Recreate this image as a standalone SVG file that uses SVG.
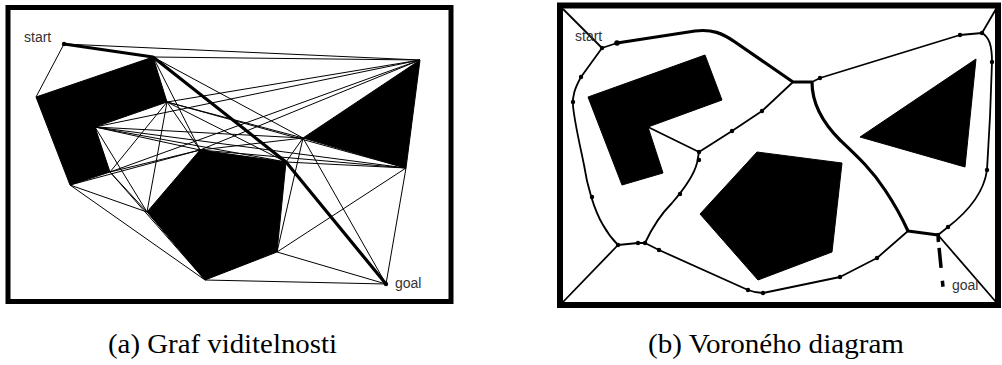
<svg xmlns="http://www.w3.org/2000/svg" width="1002" height="365" viewBox="0 0 1002 365">
<style>
.frame{fill:none;stroke:#000}
.obs{fill:#000;stroke:#000;stroke-width:1}
.thin{stroke:#000;stroke-width:1;fill:none}
.thick{stroke:#000;stroke-width:3.2;fill:none;stroke-linejoin:round}
.vor{stroke:#000;stroke-width:1.8;fill:none;stroke-linejoin:round}
.dot{fill:#000}
.lbl{font-family:"Liberation Sans",Arial,sans-serif;font-size:14px;fill:#333}
.cap{font-family:"Liberation Serif","Times New Roman",serif;font-size:27px;fill:#000}
</style>
<rect width="1002" height="365" fill="#fff"/>

<!-- Panel (a): visibility graph -->
<g id="panel-a">
  <rect class="frame" x="8" y="7.5" width="443" height="294" stroke-width="5"/>
  <g id="a-obstacles">
    <polygon id="a-obstacle-L" class="obs" points="36,97 153,57 167,102 95,127 110,172 70,185"/>
    <polygon id="a-obstacle-triangle" class="obs" points="420,60 303,138 406,168"/>
    <polygon id="a-obstacle-pentagon" class="obs" points="200,150 286,162 277,252 205,280 147,212"/>
  </g>
  <g id="a-edges" class="thin">
    <line x1="64" y1="44" x2="36" y2="97"/>
    <line x1="64" y1="44" x2="420" y2="60"/>
    <line x1="153" y1="57" x2="420" y2="60"/>
    <line x1="153" y1="57" x2="303" y2="138"/>
    <line x1="153" y1="57" x2="200" y2="150"/>
    <line x1="167" y1="102" x2="420" y2="60"/>
    <line x1="167" y1="102" x2="303" y2="138"/>
    <line x1="167" y1="102" x2="406" y2="168"/>
    <line x1="167" y1="102" x2="200" y2="150"/>
    <line x1="167" y1="102" x2="286" y2="162"/>
    <line x1="167" y1="102" x2="147" y2="212"/>
    <line x1="167" y1="102" x2="110" y2="172"/>
    <line x1="95" y1="127" x2="420" y2="60"/>
    <line x1="95" y1="127" x2="303" y2="138"/>
    <line x1="95" y1="127" x2="406" y2="168"/>
    <line x1="95" y1="127" x2="200" y2="150"/>
    <line x1="95" y1="127" x2="286" y2="162"/>
    <line x1="95" y1="127" x2="147" y2="212"/>
    <line x1="110" y1="172" x2="420" y2="60"/>
    <line x1="110" y1="172" x2="200" y2="150"/>
    <line x1="110" y1="172" x2="147" y2="212"/>
    <line x1="110" y1="172" x2="205" y2="280"/>
    <line x1="70" y1="185" x2="147" y2="212"/>
    <line x1="70" y1="185" x2="205" y2="280"/>
    <line x1="70" y1="185" x2="200" y2="150"/>
    <line x1="200" y1="150" x2="420" y2="60"/>
    <line x1="200" y1="150" x2="303" y2="138"/>
    <line x1="200" y1="150" x2="406" y2="168"/>
    <line x1="286" y1="162" x2="303" y2="138"/>
    <line x1="286" y1="162" x2="406" y2="168"/>
    <line x1="277" y1="252" x2="303" y2="138"/>
    <line x1="277" y1="252" x2="406" y2="168"/>
    <line x1="277" y1="252" x2="386" y2="284"/>
    <line x1="205" y1="280" x2="386" y2="284"/>
    <line x1="303" y1="138" x2="386" y2="284"/>
    <line x1="406" y1="168" x2="386" y2="284"/>
  </g>
  <g id="a-path">
    <polyline class="thick" points="64,44 153,57 286,162 386,284"/>
  </g>
  <g id="a-start"><circle class="dot" cx="64" cy="44" r="2.2"/><text class="lbl" x="24" y="42">start</text></g>
  <g id="a-goal"><circle class="dot" cx="386" cy="284" r="2.2"/><text class="lbl" x="395" y="288">goal</text></g>
</g>

<!-- Panel (b): Voronoi diagram -->
<g id="panel-b">
  <rect class="frame" x="560" y="5.5" width="438" height="299.5" stroke-width="6"/>
  <g id="b-obstacles">
    <polygon id="b-obstacle-L" class="obs" points="588,97 705,55 722,100 648,127 663,173 622,185"/>
    <polygon id="b-obstacle-pentagon" class="obs" points="757,152 842,163 832,252 758,280 700,214"/>
    <polygon id="b-obstacle-triangle" class="obs" points="976,59 860,137 965,167"/>
  </g>
  <g id="b-edges">
    <line class="vor" x1="563" y1="9" x2="602" y2="48"/>
    <line class="vor" x1="602" y1="48" x2="617" y2="43"/>
    <path class="vor" d="M602,48 L581,77 C575,88 572,96 573,106 C575,125 580,145 584,165 C587,185 594,210 603,225 C608,234 613,240 618,245"/>
    <line class="vor" x1="618" y1="245" x2="563" y2="302"/>
    <polyline class="vor" points="618,245 638,243 645,243"/>
    <path class="vor" d="M645,243 C652,228 660,215 672,203 C685,188 694,175 697,163 L699,152"/>
    <line class="vor" x1="699" y1="152" x2="648" y2="127"/>
    <polyline class="vor" points="699,152 732,131 762,111 793,82"/>
    <polyline class="vor" points="812,82 820,78 960,35 982,33"/>
    <line class="vor" x1="982" y1="33" x2="996" y2="9"/>
    <path class="vor" d="M982,33 C989,37 992,45 992,62 C991,100 989,140 987,170 C984,192 970,210 948,227 L938,235"/>
    <line class="vor" x1="938" y1="235" x2="996" y2="302"/>
    <path class="vor" d="M645,243 L659,250 L748,290 C753,292 758,293 763,293 L840,277 L877,258 L908,231"/>
  </g>
  <g id="b-path">
    <path class="thick" d="M617,43 L695,31 C712,29 722,33 735,42 L793,82 L812,82 C812,100 820,120 840,140 C858,157 872,170 885,190 C895,205 903,220 908,231 L938,235"/>
    <line x1="938" y1="237" x2="943" y2="287" stroke="#000" stroke-width="3.5" stroke-dasharray="5 6 20 13 6"/>
  </g>
  <g id="b-dots" class="dot">
    <circle cx="617" cy="43" r="2.8"/>
    <circle cx="602" cy="48" r="2.2"/>
    <circle cx="581" cy="77" r="2.2"/>
    <circle cx="573" cy="102" r="2.2"/>
    <circle cx="592" cy="197" r="2.2"/>
    <circle cx="618" cy="245" r="2.2"/>
    <circle cx="638" cy="243" r="2.2"/>
    <circle cx="645" cy="243" r="2.2"/>
    <circle cx="659" cy="250" r="2.2"/>
    <circle cx="680" cy="194" r="2.2"/>
    <circle cx="699" cy="160" r="2.2"/>
    <circle cx="699" cy="152" r="2.2"/>
    <circle cx="732" cy="131" r="2.2"/>
    <circle cx="762" cy="111" r="2.2"/>
    <circle cx="748" cy="290" r="2.2"/>
    <circle cx="763" cy="293" r="2.2"/>
    <circle cx="820" cy="78" r="2.2"/>
    <circle cx="960" cy="35" r="2.2"/>
    <circle cx="982" cy="33" r="2.2"/>
    <circle cx="992" cy="62" r="2.2"/>
    <circle cx="987" cy="170" r="2.2"/>
    <circle cx="948" cy="227" r="2.2"/>
    <circle cx="938" cy="235" r="2.2"/>
    <circle cx="877" cy="258" r="2.2"/>
    <circle cx="840" cy="277" r="2.2"/>
  </g>
  <g id="b-start"><text class="lbl" x="575" y="40.5">start</text></g>
  <g id="b-goal"><text class="lbl" x="952" y="290">goal</text></g>
</g>

<g id="captions">
  <text class="cap" x="108" y="353" textLength="229" lengthAdjust="spacingAndGlyphs">(a) Graf viditelnosti</text>
  <text class="cap" x="648" y="353" textLength="256" lengthAdjust="spacingAndGlyphs">(b) Voroného diagram</text>
</g>
</svg>
